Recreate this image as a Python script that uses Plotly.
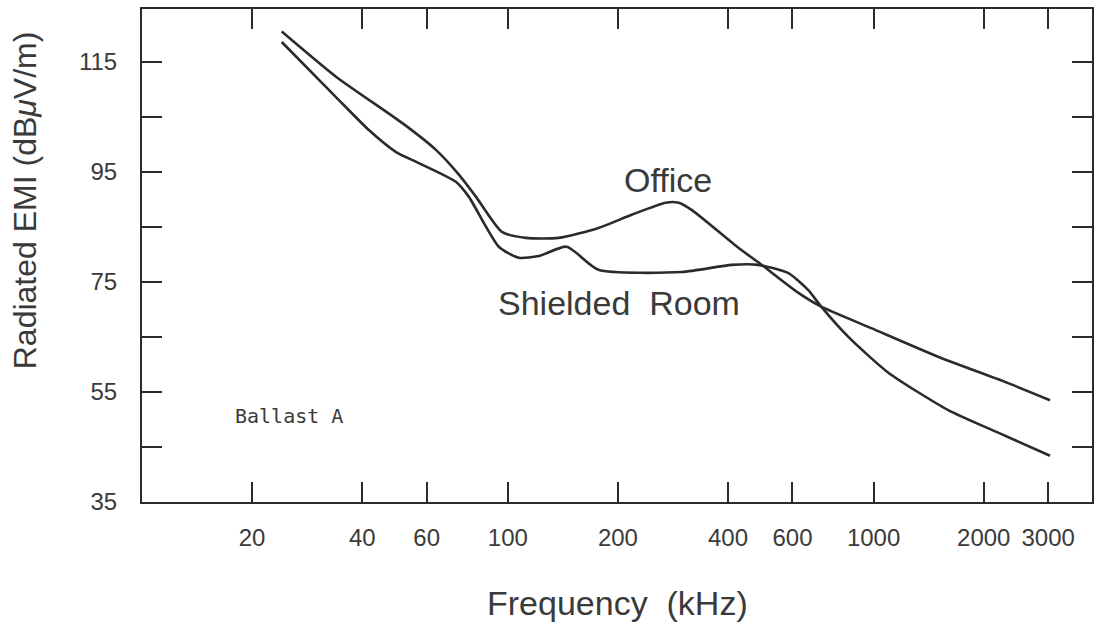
import plotly.graph_objects as go

# Radiated EMI of Ballast A versus frequency, office vs shielded room
office_khz = [24.1, 33.9, 51.4, 63.6, 73.5, 81.8, 96.3, 112, 137.7, 177, 218, 270, 293,
              318, 427, 494, 623, 719, 985, 1501, 2332, 3036]
office_db = [120.5, 112.3, 103.9, 99.0, 94.5, 90.5, 84.1, 83.0, 83.0, 84.8, 87.2, 89.4, 89.4,
             88.1, 81.2, 78.1, 73.0, 70.5, 66.6, 61.4, 56.6, 53.5]

shielded_khz = [24.1, 33.9, 41.7, 49.5, 57.1, 72.1, 78.2, 94.5, 107.1, 121.5, 144.9, 177,
                299, 409, 484, 585, 663, 719, 853, 1097, 1599, 2190, 3036]
shielded_db = [118.6, 108.6, 102.6, 98.6, 96.6, 93.2, 90.5, 81.4, 79.4, 79.7, 81.4, 77.2,
               76.8, 78.1, 78.1, 76.6, 73.5, 70.5, 65.0, 58.5, 51.7, 47.6, 43.4]

x_tickvals = [20, 40, 60, 100, 200, 400, 600, 1000, 2000, 3000]
x_ticktext = ["20", "40", "60", "100", "200", "400", "600", "1000", "2000", "3000"]
y_tickvals = [35, 45, 55, 65, 75, 85, 95, 105, 115]
y_ticktext = ["35", "", "55", "", "75", "", "95", "", "115"]

ink = "#2b2b2b"
text_col = "#3a3a3a"
font_main = "Liberation Sans, Arial, sans-serif"

fig = go.Figure()
fig.add_trace(go.Scatter(x=office_khz, y=office_db, mode="lines", name="Office",
                         line=dict(color=ink, width=2.6, shape="spline", smoothing=0.6)))
fig.add_trace(go.Scatter(x=shielded_khz, y=shielded_db, mode="lines", name="Shielded Room",
                         line=dict(color=ink, width=2.6, shape="spline", smoothing=0.6)))

axis_common = dict(showline=True, linecolor=ink, linewidth=2, mirror="ticks",
                   ticks="inside", ticklen=20, tickwidth=2, tickcolor=ink,
                   showgrid=False, zeroline=False,
                   tickfont=dict(family=font_main, size=24, color=text_col))

fig.update_xaxes(type="log", range=[1, 3.597], tickmode="array",
                 tickvals=x_tickvals, ticktext=x_ticktext, ticklabelstandoff=13,
                 **axis_common)
fig.update_yaxes(range=[35, 124.6], tickmode="array",
                 tickvals=y_tickvals, ticktext=y_ticktext, ticklabelstandoff=18,
                 **axis_common)

annotations = [
    dict(text="Office", x=669, y=180, font_size=34),
    dict(text="Shielded\u00a0 Room", x=620, y=303, font_size=34),
    dict(text="Frequency\u00a0 (kHz)", x=619, y=603, font_size=34),
    dict(text="Radiated\u00a0EMI\u00a0(dB<i>μ</i>V/m)", x=25, y=200, font_size=32, textangle=-90),
]
W, H = 1101, 629
L, R, T, B = 142, 7, 9, 127
pw, ph = W - L - R, H - T - B
for a in annotations:
    fig.add_annotation(
        text=a["text"], xref="paper", yref="paper",
        x=(a["x"] - L) / pw, y=(H - B - a["y"]) / ph,
        xanchor="center", yanchor="middle", showarrow=False,
        textangle=a.get("textangle", 0),
        font=dict(family=font_main, size=a["font_size"], color=text_col))

fig.add_annotation(text="Ballast A", xref="paper", yref="paper",
                   x=(233 - L) / pw, y=(H - B - 416) / ph,
                   xanchor="left", yanchor="middle", showarrow=False,
                   font=dict(family="DejaVu Sans Mono, monospace", size=20, color=text_col))

fig.update_layout(width=W, height=H, margin=dict(l=L, r=R, t=T, b=B),
                  plot_bgcolor="white", paper_bgcolor="white", showlegend=False)

fig.write_html("out.html")
